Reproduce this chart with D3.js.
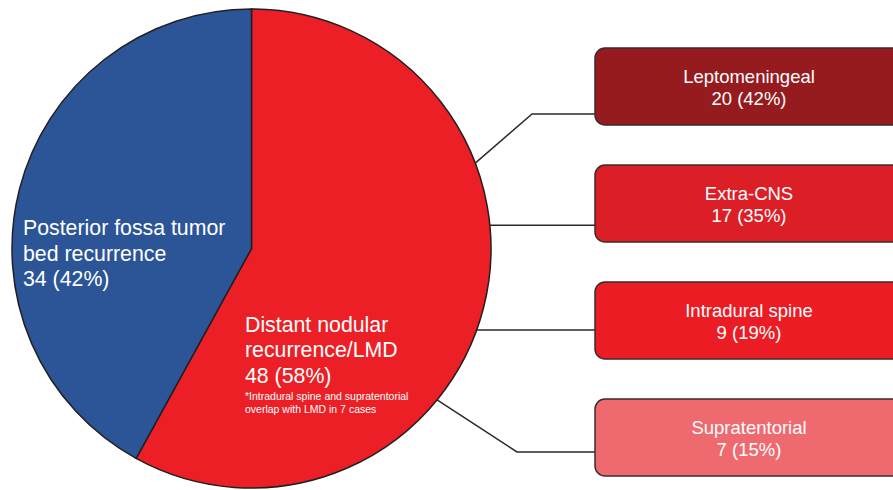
<!DOCTYPE html>
<meta charset="utf-8">
<style>
body { margin: 0; background: #fff; }
text { font-family: "Liberation Sans", Arial, sans-serif; fill: #fff; }
</style>
<body>
<script src="https://d3js.org/d3.v7.min.js"></script>
<script>

// pie data
let pieLabels = [["Distant nodular", "recurrence/LMD"], ["Posterior fossa tumor", "bed recurrence"]];
let pieCounts = [48, 34];
let piePercents = [58, 42];
let pieColors = ["#ec1f26", "#2c5597"];
let footnote = ["*Intradural spine and supratentorial", "overlap with LMD in 7 cases"];

// breakdown of distant recurrence
let siteLabels = ["Leptomeningeal", "Extra-CNS", "Intradural spine", "Supratentorial"];
let siteCounts = [20, 17, 9, 7];
let sitePercents = [42, 35, 19, 15];
let siteColors = ["#961b1f", "#dc1f27", "#ec1c24", "#ef6a6f"];

let width = 893;
let height = 490;

let svg = d3.select("body").append("svg")
    .attr("width", width)
    .attr("height", height);

let cx = 251.5, cy = 248.5, r = 239.5;

let pie = d3.pie().sort(null).value(d => d);
let arcs = pie(piePercents);
let arc = d3.arc().innerRadius(0).outerRadius(r);

let g = svg.append("g").attr("transform", `translate(${cx},${cy})`);

g.selectAll("path")
  .data(arcs)
  .enter().append("path")
    .attr("d", arc)
    .style("fill", (d, i) => pieColors[i])
    .style("stroke", "#231f20")
    .style("stroke-width", 1.5);

// pie labels (positions picked by eye)
let labelPos = [[245 - cx, 331.5 - cy], [23 - cx, 235 - cy]];
arcs.forEach((d, i) => {
  let t = g.append("text")
    .attr("x", labelPos[i][0])
    .attr("y", labelPos[i][1])
    .style("font-size", "21.3px");
  let lines = pieLabels[i].concat([pieCounts[i] + " (" + piePercents[i] + "%)"]);
  lines.forEach((l, j) => {
    t.append("tspan")
      .attr("x", labelPos[i][0])
      .attr("dy", j == 0 ? 0 : 25.5)
      .text(l);
  });
});

let fn = g.append("text")
  .attr("x", labelPos[0][0])
  .attr("y", 400 - cy)
  .style("font-size", "10.5px");
footnote.forEach((l, j) => {
  fn.append("tspan")
    .attr("x", labelPos[0][0])
    .attr("dy", j == 0 ? 0 : 13)
    .text(l);
});

// boxes on the right
let boxX = 595, boxW = 308, boxH = 77;
let y = d3.scalePoint().domain(siteLabels).range([48, 399]);

// connector: angle on pie edge (deg from top, clockwise), bend x, level y
let connAngles = [69.1, 84.4, 109.9, 129.2];
let connBendX = [532, null, null, 517];
let connY = [114, null, null, 452];

let line = d3.line();
siteLabels.forEach((s, i) => {
  let a = connAngles[i] * Math.PI / 180;
  let ex = cx + r * Math.sin(a), ey = cy - r * Math.cos(a);
  let pts = connBendX[i] == null
    ? [[ex, ey], [boxX, ey]]
    : [[ex, ey], [connBendX[i], connY[i]], [boxX, connY[i]]];
  svg.append("path")
    .attr("d", line(pts))
    .style("fill", "none")
    .style("stroke", "#2a2a2a")
    .style("stroke-width", 1.5);
});

let box = svg.selectAll(".box")
  .data(siteLabels)
  .enter().append("g")
    .attr("class", "box")
    .attr("transform", d => `translate(${boxX},${y(d)})`);

box.append("rect")
  .attr("width", boxW)
  .attr("height", boxH)
  .attr("rx", 10)
  .style("fill", (d, i) => siteColors[i])
  .style("stroke", "#3b2b2b")
  .style("stroke-width", 1.5);

box.append("text")
  .attr("x", boxW / 2)
  .attr("y", 35)
  .attr("text-anchor", "middle")
  .style("font-size", "18.5px")
  .text(d => d);

box.append("text")
  .attr("x", boxW / 2)
  .attr("y", 57)
  .attr("text-anchor", "middle")
  .style("font-size", "18.5px")
  .text((d, i) => siteCounts[i] + " (" + sitePercents[i] + "%)");

</script>
